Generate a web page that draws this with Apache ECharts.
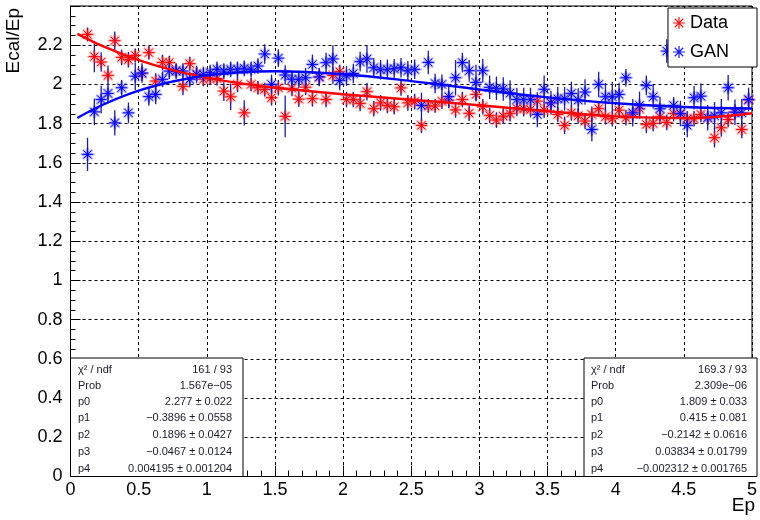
<!DOCTYPE html>
<html>
<head>
<meta charset="utf-8">
<script src="https://cdn.jsdelivr.net/npm/echarts@6/dist/echarts.min.js"></script>
<style>
html,body{margin:0;padding:0;background:#fff;}
#chart{width:760px;height:520px;}
</style>
</head>
<body>
<div id="chart"></div>
<script>
// ---- data ----
const ep = [
0.125,0.175,0.225,0.275,0.325,0.375,0.425,0.475,0.525,0.575,
0.625,0.675,0.725,0.775,0.825,0.875,0.925,0.975,1.025,1.075,
1.125,1.175,1.225,1.275,1.325,1.375,1.425,1.475,1.525,1.575,
1.625,1.675,1.725,1.775,1.825,1.875,1.925,1.975,2.025,2.075,
2.125,2.175,2.225,2.275,2.325,2.375,2.425,2.475,2.525,2.575,
2.625,2.675,2.725,2.775,2.825,2.875,2.925,2.975,3.025,3.075,
3.125,3.175,3.225,3.275,3.325,3.375,3.425,3.475,3.525,3.575,
3.625,3.675,3.725,3.775,3.825,3.875,3.925,3.975,4.025,4.075,
4.125,4.175,4.225,4.275,4.325,4.375,4.425,4.475,4.525,4.575,
4.625,4.675,4.725,4.775,4.825,4.875,4.925,4.975];

const dataVals = [
2.255,2.142,2.114,2.046,2.223,2.138,2.126,2.148,2.056,2.162,
2.017,2.112,2.111,2.070,1.990,2.106,2.055,2.026,2.030,2.030,
1.966,1.937,2.000,1.855,2.000,1.983,1.974,1.932,1.983,1.837,
1.980,1.925,1.986,1.927,2.036,1.923,2.046,2.065,1.923,1.923,
1.903,1.963,1.876,1.906,1.893,1.886,1.982,1.906,1.912,1.791,
1.890,1.890,1.914,1.920,1.870,1.923,1.853,1.949,1.886,1.842,
1.818,1.838,1.851,1.878,1.876,1.872,1.915,1.869,1.906,1.847,
1.791,1.855,1.840,1.813,1.847,1.876,1.835,1.825,1.869,1.830,
1.847,1.876,1.796,1.801,1.835,1.806,1.852,1.847,1.825,1.825,
1.847,1.830,1.728,1.779,1.821,1.860,1.770,1.920];

const dataErr = [
0.035,0.080,0.050,0.050,0.047,0.040,0.040,0.035,0.040,0.035,
0.040,0.040,0.035,0.035,0.045,0.035,0.035,0.035,0.030,0.035,
0.050,0.068,0.040,0.064,0.035,0.035,0.035,0.040,0.040,0.106,
0.040,0.040,0.040,0.040,0.045,0.040,0.045,0.035,0.040,0.040,
0.040,0.045,0.040,0.040,0.040,0.040,0.040,0.040,0.040,0.040,
0.035,0.035,0.040,0.040,0.040,0.040,0.040,0.035,0.040,0.040,
0.040,0.040,0.040,0.040,0.040,0.040,0.045,0.040,0.040,0.040,
0.045,0.040,0.040,0.040,0.040,0.040,0.040,0.040,0.040,0.040,
0.040,0.040,0.045,0.040,0.040,0.040,0.040,0.045,0.040,0.040,
0.040,0.040,0.050,0.045,0.040,0.040,0.045,0.040];

const ganVals = [
1.643,1.860,1.923,1.954,1.804,1.983,1.855,2.042,2.058,1.938,
1.949,2.026,2.068,2.068,2.068,2.026,2.051,2.051,2.060,2.077,
2.068,2.077,2.077,2.082,2.077,2.094,2.155,2.000,2.134,2.048,
2.026,2.026,2.034,2.102,2.039,2.111,2.130,2.020,2.043,2.056,
2.116,2.130,2.085,2.075,2.077,2.080,2.085,2.070,2.077,1.893,
2.112,2.005,2.000,1.938,2.034,2.111,2.070,2.010,2.070,1.985,
1.980,1.977,1.956,1.923,1.923,1.923,1.847,1.975,1.906,1.927,
1.927,1.954,1.920,1.961,1.770,2.000,1.937,1.937,1.949,2.034,
1.855,1.893,1.995,1.937,1.876,2.170,1.893,1.852,1.791,1.932,
1.940,1.830,1.840,1.855,1.983,1.858,1.855,1.923];

const ganErr = [
0.085,0.068,0.070,0.050,0.064,0.040,0.053,0.070,0.050,0.047,
0.050,0.040,0.040,0.040,0.040,0.040,0.045,0.040,0.040,0.040,
0.040,0.040,0.040,0.040,0.040,0.040,0.050,0.050,0.045,0.050,
0.045,0.045,0.050,0.050,0.045,0.050,0.070,0.050,0.050,0.050,
0.050,0.070,0.050,0.050,0.050,0.050,0.050,0.050,0.050,0.065,
0.060,0.050,0.050,0.060,0.090,0.050,0.055,0.090,0.060,0.060,
0.060,0.060,0.065,0.060,0.060,0.060,0.065,0.070,0.060,0.060,
0.060,0.060,0.060,0.065,0.060,0.065,0.070,0.077,0.060,0.045,
0.070,0.070,0.050,0.060,0.060,0.060,0.043,0.065,0.060,0.060,
0.065,0.065,0.070,0.070,0.065,0.065,0.070,0.060];

// fitted pol4 curves, sampled
const fitEp  = [0.05, 0.25, 0.5, 0.75, 1.0, 1.25, 1.5, 2.0, 2.5, 3.0, 3.5, 4.0, 4.5, 5.0];
const fitData = [2.258, 2.191, 2.124, 2.073, 2.035, 2.005, 1.983, 1.950, 1.922, 1.894, 1.863, 1.837, 1.828, 1.853];
const fitGan  = [1.829, 1.900, 1.968, 2.015, 2.046, 2.062, 2.067, 2.052, 2.017, 1.974, 1.934, 1.904, 1.885, 1.877];

const statLabels = ['χ² / ndf', 'Prob', 'p0', 'p1', 'p2', 'p3', 'p4'];
const dataStats = ['161 / 93', '1.567e−05', '2.277 ± 0.022', '−0.3896 ± 0.0558', '0.1896 ± 0.0427', '−0.0467 ± 0.0124', '0.004195 ± 0.001204'];
const ganStats  = ['169.3 / 93', '2.309e−06', '1.809 ± 0.033', '0.415 ± 0.081', '−0.2142 ± 0.0616', '0.03834 ± 0.01799', '−0.002312 ± 0.001765'];

const legendNames = ['Data', 'GAN'];

// ---- chart ----
const FONT = '"Liberation Sans", Arial, Helvetica, sans-serif';
const starPath = 'path://M-0.8,-8 L0.8,-8 L0.8,8 L-0.8,8 Z M-8,-0.8 L8,-0.8 L8,0.8 L-8,0.8 Z M-5.1,-6.23 L6.23,5.1 L5.1,6.23 L-6.23,-5.1 Z M-6.23,5.1 L5.1,-6.23 L6.23,-5.1 L-5.1,6.23 Z';

function zip3(a, b, c) { return a.map((v, i) => [v, b[i], c[i]]); }
function zip2(a, b) { return a.map((v, i) => [v, b[i]]); }

function makeRender(core, glow) {
  return function (params, api) {
    const x = api.value(0), y = api.value(1), e = api.value(2);
    const c = api.coord([x, y]);
    const hi = api.coord([x, y + e]);
    const lo = api.coord([x, y - e]);
    const r = 5.6, d = r * 0.7071;
    const arms = [[-r, 0, r, 0], [0, -r, 0, r], [-d, -d, d, d], [-d, d, d, -d]];
    const children = [];
    arms.forEach(a => children.push({
      type: 'line',
      shape: { x1: c[0] + a[0], y1: c[1] + a[1], x2: c[0] + a[2], y2: c[1] + a[3] },
      style: { stroke: glow, lineWidth: 2.8, lineCap: 'round' }
    }));
    children.push({
      type: 'line',
      shape: { x1: c[0], y1: hi[1], x2: c[0], y2: lo[1] },
      style: { stroke: '#1a1aa8', lineWidth: 1.3 }
    });
    arms.forEach(a => children.push({
      type: 'line',
      shape: { x1: c[0] + a[0], y1: c[1] + a[1], x2: c[0] + a[2], y2: c[1] + a[3] },
      style: { stroke: core, lineWidth: 1 }
    }));
    return { type: 'group', children: children };
  };
}

function statBox(x, w, labelX, valueX, values) {
  const els = [{
    type: 'rect', z: 50,
    shape: { x: x, y: 358, width: w, height: 118.5 },
    style: { fill: '#fff', stroke: '#000', lineWidth: 1 }
  }];
  const rowY = [370, 385.5, 401.5, 418, 434.5, 451.5, 468.5];
  statLabels.forEach((lab, i) => {
    els.push({ type: 'text', z: 51, x: labelX, y: rowY[i],
      style: { text: lab, fill: '#1a1a2a', font: '11px ' + FONT, align: 'left', verticalAlign: 'middle' } });
    els.push({ type: 'text', z: 51, x: valueX, y: rowY[i],
      style: { text: values[i], fill: '#1a1a2a', font: '11px ' + FONT, align: 'right', verticalAlign: 'middle' } });
  });
  return els;
}

const chart = echarts.init(document.getElementById('chart'), null, { renderer: 'canvas' });
chart.setOption({
  animation: false,
  backgroundColor: '#fff',
  grid: { left: 70.5, right: 5, top: 6, bottom: 43.5, show: true, borderColor: '#000', borderWidth: 1, backgroundColor: 'transparent' },
  xAxis: {
    type: 'value', min: 0, max: 5, interval: 0.5,
    axisLine: { show: true, onZero: false, lineStyle: { color: '#000', width: 1 } },
    axisTick: { show: true, inside: true, length: 11, lineStyle: { color: '#000' } },
    minorTick: { show: true, splitNumber: 5, length: 6, lineStyle: { color: '#000' } },
    axisLabel: { color: '#000', fontSize: 18, fontFamily: FONT, margin: 5 },
    splitLine: { show: true, lineStyle: { color: '#000', type: [3, 3], width: 1 } }
  },
  yAxis: {
    type: 'value', min: 0, max: 2.4, interval: 0.2,
    axisLine: { show: true, onZero: false, lineStyle: { color: '#000', width: 1 } },
    axisTick: { show: true, inside: true, length: 10, lineStyle: { color: '#000' } },
    minorTick: { show: true, splitNumber: 4, length: 5, lineStyle: { color: '#000' } },
    axisLabel: { color: '#000', fontSize: 18, fontFamily: FONT, margin: 8,
      formatter: v => (Math.abs(v - 2.4) < 1e-6 ? '' : String(Math.round(v * 10) / 10)) },
    splitLine: { show: true, lineStyle: { color: '#000', type: [3, 3], width: 1 } }
  },
  legend: {
    data: [
      { name: legendNames[0], icon: starPath },
      { name: legendNames[1], icon: starPath }
    ],
    orient: 'vertical', right: 3, top: 8,
    itemWidth: 12, itemHeight: 12, itemGap: 11, itemTextGap: 4,
    padding: [6, 28, 6, 5],
    borderColor: '#000', borderWidth: 1, backgroundColor: '#fff',
    textStyle: { fontSize: 18, fontFamily: FONT, color: '#000' },
    selectedMode: false, z: 60
  },
  series: [
    {
      name: legendNames[0], type: 'custom', z: 3,
      itemStyle: { color: '#ff1a1a' },
      renderItem: makeRender('#ff0000', 'rgba(255,90,90,0.42)'),
      encode: { x: 0, y: 1 },
      data: zip3(ep, dataVals, dataErr)
    },
    {
      name: legendNames[1], type: 'custom', z: 4,
      itemStyle: { color: '#1a1aff' },
      renderItem: makeRender('#0000ff', 'rgba(90,90,255,0.42)'),
      encode: { x: 0, y: 1 },
      data: zip3(ep, ganVals, ganErr)
    },
    {
      name: 'Data fit', type: 'line', z: 6, smooth: 0.4, showSymbol: false,
      lineStyle: { color: '#ff0000', width: 2.4 }, itemStyle: { color: '#ff0000' },
      data: zip2(fitEp, fitData)
    },
    {
      name: 'GAN fit', type: 'line', z: 7, smooth: 0.4, showSymbol: false,
      lineStyle: { color: '#0000ff', width: 2.4 }, itemStyle: { color: '#0000ff' },
      data: zip2(fitEp, fitGan)
    }
  ],
  graphic: [].concat(
    statBox(70.5, 172.5, 78, 232, dataStats),
    statBox(584, 173, 591, 747, ganStats),
    [
      { type: 'text', x: 14, y: 8, rotation: Math.PI / 2,
        style: { text: 'Ecal/Ep', fill: '#000', font: '19px ' + FONT, align: 'right', verticalAlign: 'middle' } },
      { type: 'text', x: 755, y: 506,
        style: { text: 'Ep', fill: '#000', font: '19px ' + FONT, align: 'right', verticalAlign: 'middle' } }
    ]
  )
});
</script>
</body>
</html>
